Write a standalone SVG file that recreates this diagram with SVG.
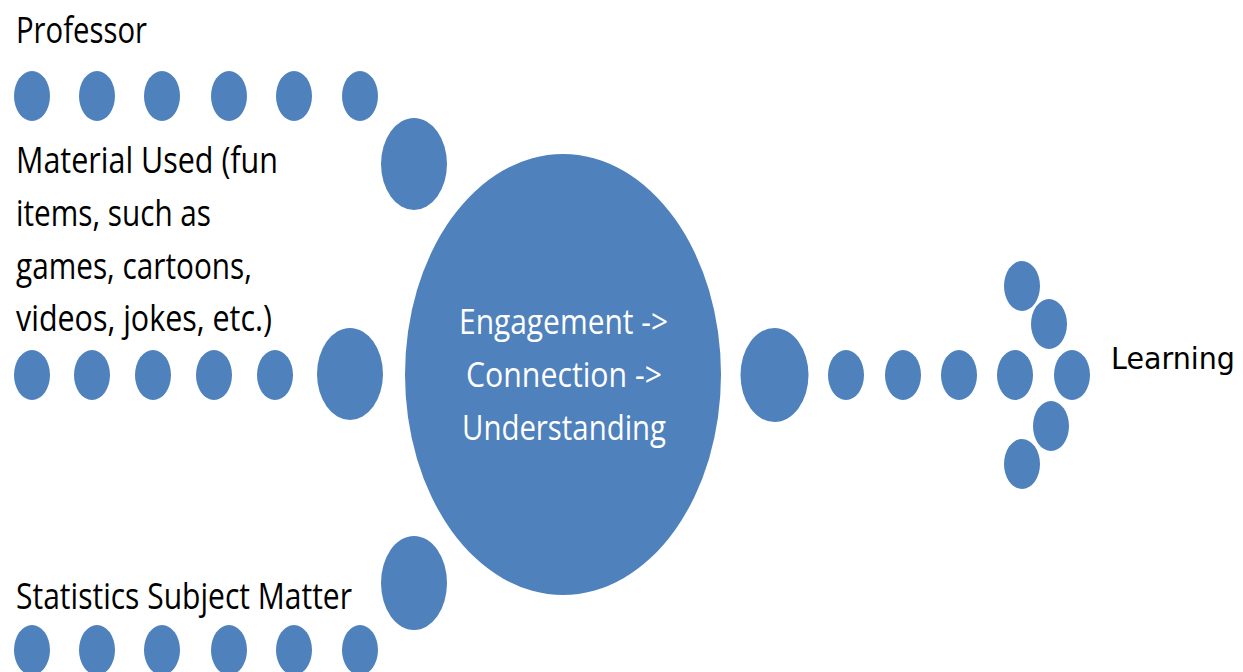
<svg xmlns="http://www.w3.org/2000/svg" width="1243" height="672" viewBox="0 0 1243 672">
<style>
.dot{fill:#4F81BD}
.lbl{font-family:"Open Sans","Noto Sans","Liberation Sans",sans-serif;font-size:36px;fill:#000}
.ctr{font-family:"Open Sans","Noto Sans","Liberation Sans",sans-serif;font-size:35px;fill:#fff;text-anchor:middle}
.lrn{font-family:"Comic Sans MS","DejaVu Sans",sans-serif;font-size:30px;fill:#000}
</style>
<rect width="1243" height="672" fill="#fff"/>
<g id="connectors">
  <g id="chain-professor">
    <ellipse class="dot" cx="32" cy="96" rx="18" ry="25"/>
    <ellipse class="dot" cx="97" cy="96" rx="18" ry="25"/>
    <ellipse class="dot" cx="162" cy="96" rx="18" ry="25"/>
    <ellipse class="dot" cx="229" cy="96" rx="18" ry="25"/>
    <ellipse class="dot" cx="294" cy="96" rx="18" ry="25"/>
    <ellipse class="dot" cx="360" cy="96" rx="18" ry="25"/>
    <ellipse class="dot" cx="414" cy="164" rx="33" ry="46"/>
  </g>
  <g id="chain-material">
    <ellipse class="dot" cx="32" cy="375" rx="18" ry="25"/>
    <ellipse class="dot" cx="92" cy="375" rx="18" ry="25"/>
    <ellipse class="dot" cx="153" cy="375" rx="18" ry="25"/>
    <ellipse class="dot" cx="214" cy="375" rx="18" ry="25"/>
    <ellipse class="dot" cx="275" cy="375" rx="18" ry="25"/>
    <ellipse class="dot" cx="350" cy="374" rx="33" ry="46"/>
  </g>
  <g id="chain-statistics">
    <ellipse class="dot" cx="32" cy="650" rx="18" ry="25"/>
    <ellipse class="dot" cx="97" cy="650" rx="18" ry="25"/>
    <ellipse class="dot" cx="162" cy="650" rx="18" ry="25"/>
    <ellipse class="dot" cx="229" cy="650" rx="18" ry="25"/>
    <ellipse class="dot" cx="294" cy="650" rx="18" ry="25"/>
    <ellipse class="dot" cx="360" cy="650" rx="18" ry="25"/>
    <ellipse class="dot" cx="414" cy="583" rx="33" ry="47"/>
  </g>
  <g id="chain-learning">
    <ellipse class="dot" cx="774.5" cy="375" rx="34" ry="47"/>
    <ellipse class="dot" cx="846" cy="375" rx="18" ry="25"/>
    <ellipse class="dot" cx="903" cy="375" rx="18" ry="25"/>
    <ellipse class="dot" cx="959" cy="375" rx="18" ry="25"/>
    <ellipse class="dot" cx="1015" cy="375" rx="18" ry="25"/>
    <ellipse class="dot" cx="1072" cy="375" rx="18" ry="25"/>
    <ellipse class="dot" cx="1022" cy="286" rx="18" ry="25"/>
    <ellipse class="dot" cx="1049" cy="324" rx="18" ry="25"/>
    <ellipse class="dot" cx="1051" cy="426" rx="18" ry="25"/>
    <ellipse class="dot" cx="1022" cy="464" rx="18" ry="25"/>
  </g>
</g>
<g id="node-professor">
  <text class="lbl" x="16" y="43" textLength="131" lengthAdjust="spacingAndGlyphs">Professor</text>
</g>
<g id="node-material">
  <text class="lbl" x="16" y="173" textLength="262" lengthAdjust="spacingAndGlyphs">Material Used (fun</text>
  <text class="lbl" x="16" y="226" textLength="195" lengthAdjust="spacingAndGlyphs">items, such as</text>
  <text class="lbl" x="16" y="279" textLength="236" lengthAdjust="spacingAndGlyphs">games, cartoons,</text>
  <text class="lbl" x="16" y="331" textLength="256" lengthAdjust="spacingAndGlyphs">videos, jokes, etc.)</text>
</g>
<g id="node-statistics">
  <text class="lbl" x="16" y="609" textLength="336" lengthAdjust="spacingAndGlyphs">Statistics Subject Matter</text>
</g>
<g id="node-center">
  <ellipse class="dot" cx="563" cy="374.5" rx="158" ry="220.5"/>
  <text class="ctr" x="563.5" y="334" textLength="209" lengthAdjust="spacingAndGlyphs">Engagement -&gt;</text>
  <text class="ctr" x="564" y="387" textLength="196" lengthAdjust="spacingAndGlyphs">Connection -&gt;</text>
  <text class="ctr" x="564" y="440" textLength="204" lengthAdjust="spacingAndGlyphs">Understanding</text>
</g>
<g id="node-learning">
  <text class="lrn" x="1111" y="369" textLength="124" lengthAdjust="spacingAndGlyphs">Learning</text>
</g>
</svg>
